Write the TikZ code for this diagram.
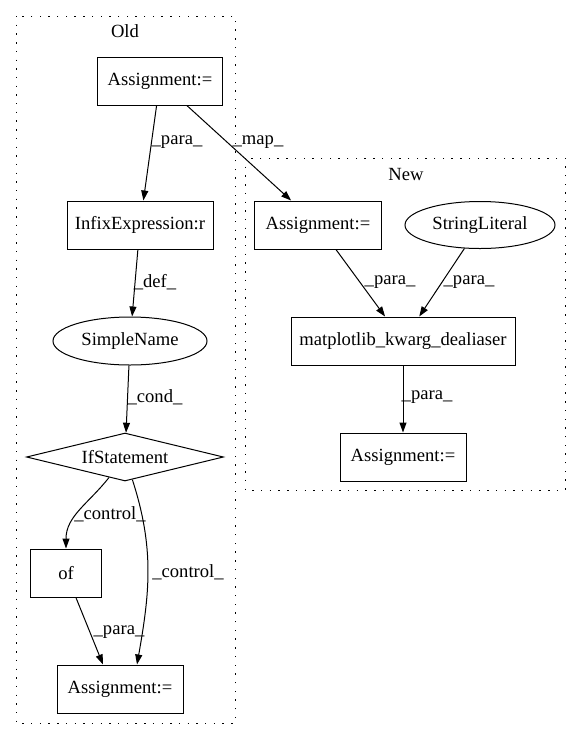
\documentclass[tikz,border=0pt]{standalone}
\usepackage{fontspec}
\setmainfont{Liberation Serif}
\usetikzlibrary{positioning,shapes,arrows.meta}

\begin{document}
\begin{tikzpicture}[x=1pt, y=-1pt, line width=1pt, font=\fontsize{18.6}{22}\selectfont]
\tikzstyle{box}=[rectangle, draw, inner sep=0pt, minimum height=48pt]
\tikzstyle{oval}=[ellipse, draw, inner sep=0pt, minimum height=48pt]
\tikzstyle{cond}=[diamond, draw, inner sep=0pt, shape aspect=4.1, minimum width=197pt, minimum height=48pt]
\tikzstyle{arr}=[-{Triangle[length=10pt,width=7pt]}]
\tikzstyle{lbl}=[inner sep=0pt]
\tikzstyle{clus}=[draw, dash pattern=on 1.4pt off 7.3pt]
\useasboundingbox (0,0) rectangle (581,740);
%clusters
\draw[clus] (16,16) rectangle (235,723);
\draw[clus] (245,158) rectangle (565,490);
\node (old) at (125,31) {Old};
\node (new) at (406,174) {New};
%old side
\node[box, minimum width=125pt] (oa) at (160,81) {Assignment:=};
\node[box, minimum width=146pt] (infix) at (140,225) {InfixExpression:r};
\node[oval, minimum width=154pt] (simple) at (130,341) {SimpleName};
\node[cond] (ifst) at (125,457) {IfStatement};
\node[box, minimum width=71pt] (of) at (66,573) {of};
\node[box, minimum width=126pt] (ob) at (120,689) {Assignment:=};
%new side
\node[box, minimum width=127pt] (na) at (318,225) {Assignment:=};
\node[oval, minimum width=150pt, minimum height=47pt] (strlit) at (480,225) {StringLiteral};
\node[box, minimum width=224pt] (mkd) at (403,341) {matplotlib\_kwarg\_dealiaser};
\node[box, minimum width=126pt] (nb) at (403,457) {Assignment:=};
\foreach \i/\j in {oa/infix,oa/na,infix/simple,simple/ifst,na/mkd,strlit/mkd,mkd/nb}{\draw[arr] (\i) -- (\j);}
\draw[arr] (ifst) to[out=-128,in=90] (of);
\draw[arr] (ifst) to[out=-72,in=80] ([xshift=17pt]ob.north);
\draw[arr] (of) -- ([xshift=-17pt]ob.north);
\foreach \n/\x/\y/\t in {l1/177/142/para, l2/258/142/map, l3/155/282/def, l4/155/397/cond,
  l5/110/514/control, l6/188/572/control, l7/119/632/para,
  l8/390/282/para, l9/469/282/para, l10/427/397/para}{\node[lbl] (\n) at (\x,\y) {\_\t\_};}
\end{tikzpicture}
\end{document}
